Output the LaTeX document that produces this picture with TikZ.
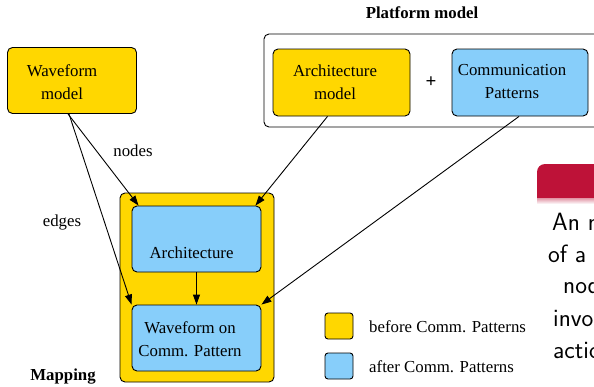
\documentclass[tikz,border=0pt]{standalone}
\usepackage{fontspec}
\setmainfont{Liberation Serif}
\usetikzlibrary{arrows.meta}

\definecolor{gvyellow}{HTML}{FFD700}
\definecolor{gvblue}{HTML}{87CEFA}
\definecolor{hdred}{RGB}{190,18,56}

\newcommand{\gvfont}{\fontsize{16.8pt}{23pt}\selectfont}

\tikzset{
	gvbox/.style = {draw, rounded corners=5pt, line width=0.9pt, inner sep=0pt},
	ybox/.style = {gvbox, fill=gvyellow},
	bbox/.style = {gvbox, fill=gvblue},
	gvtext/.style = {font=\gvfont, align=center, inner sep=0pt},
	gvarrow/.style = {line width=0.9pt, -{Triangle[length=10pt,width=7pt]}},
}

\begin{document}
\begin{tikzpicture} [x = 1pt, y = -1pt]
	\useasboundingbox (0,0) rectangle (594,386);
	% clusters
	\node [gvbox, fill = white, minimum width = 338pt, minimum height = 93pt] (platform) at (433,80.5) {};
	\node [ybox, minimum width = 154pt, minimum height = 189pt] (mapping) at (197,287.5) {};
	\node [gvtext, font = \gvfont\bfseries] (platformlbl) at (422,13) {Platform model};
	\node [gvtext, font = \gvfont\bfseries] (mappinglbl) at (63,377) {Mapping};
	% models
	\node [ybox, minimum width = 129pt, minimum height = 66pt] (wave) at (72,80.5) {};
	\node [gvtext] (wavetxt) at (62,82) {Waveform\\model};
	\node [ybox, minimum width = 137pt, minimum height = 67pt] (archm) at (341.5,82.5) {};
	\node [gvtext] (archmtxt) at (335,82) {Architecture\\model};
	\node [gvtext, font = \fontsize{19pt}{23pt}\selectfont\bfseries] (plus) at (431,82) {+};
	\node [bbox, minimum width = 136pt, minimum height = 67pt] (comm) at (520,82.5) {};
	\node [gvtext] (commtxt) at (512,82) {Communication\\Patterns};
	% mapping result
	\node [bbox, minimum width = 129pt, minimum height = 66pt] (arch) at (196.5,239) {};
	\node [gvtext] (archtxt) at (191.5,253) {Architecture};
	\node [bbox, minimum width = 129pt, minimum height = 66pt] (wcp) at (196.5,338) {};
	\node [gvtext] (wcptxt) at (190,339) {Waveform on\\Comm. Pattern};
	% edges
	\draw [gvarrow] ([xshift=-4pt]wave.south) -- ([xshift=7pt]arch.north west);
	\draw [gvarrow] ([xshift=-3pt]wave.south) -- (wcp.north west);
	\draw [gvarrow] ([xshift=-14pt]archm.south) -- ([xshift=-6pt]arch.north east);
	\draw [gvarrow] ([xshift=-1pt]comm.south) -- (wcp.north east);
	\draw [gvarrow] (arch.south) -- (wcp.north);
	\node [gvtext] (nodeslbl) at (133,151) {nodes};
	\node [gvtext] (edgeslbl) at (62,222) {edges};
	% legend
	\node [ybox, rounded corners = 3pt, minimum width = 28pt, minimum height = 26pt] (keyold) at (339,326) {};
	\node [gvtext, anchor = west] (keyoldtxt) at (369,327) {before Comm. Patterns};
	\node [bbox, rounded corners = 3pt, minimum width = 28pt, minimum height = 26pt] (keynew) at (339,366) {};
	\node [gvtext, anchor = west] (keynewtxt) at (369,367) {after Comm. Patterns};
	% block on the right
	\fill [hdred] (537,198) [rounded corners = 8pt] -- (537,164) -- (620,164) [sharp corners] -- (620,198) -- cycle;
	\shade [top color = hdred!45, bottom color = white] (537,198) rectangle (620,204);
	\begin{scope} [every node/.style = {font = \sffamily\fontsize{25pt}{32pt}\selectfont, anchor = base west, inner sep = 0pt}]
		\node (blk1) at (552,230) {An m};
		\node (blk2) at (548,262) {of a};
		\node (blk3) at (563,293) {nod};
		\node (blk4) at (553,326) {invo};
		\node (blk5) at (553,358) {actio};
	\end{scope}
\end{tikzpicture}
\end{document}
